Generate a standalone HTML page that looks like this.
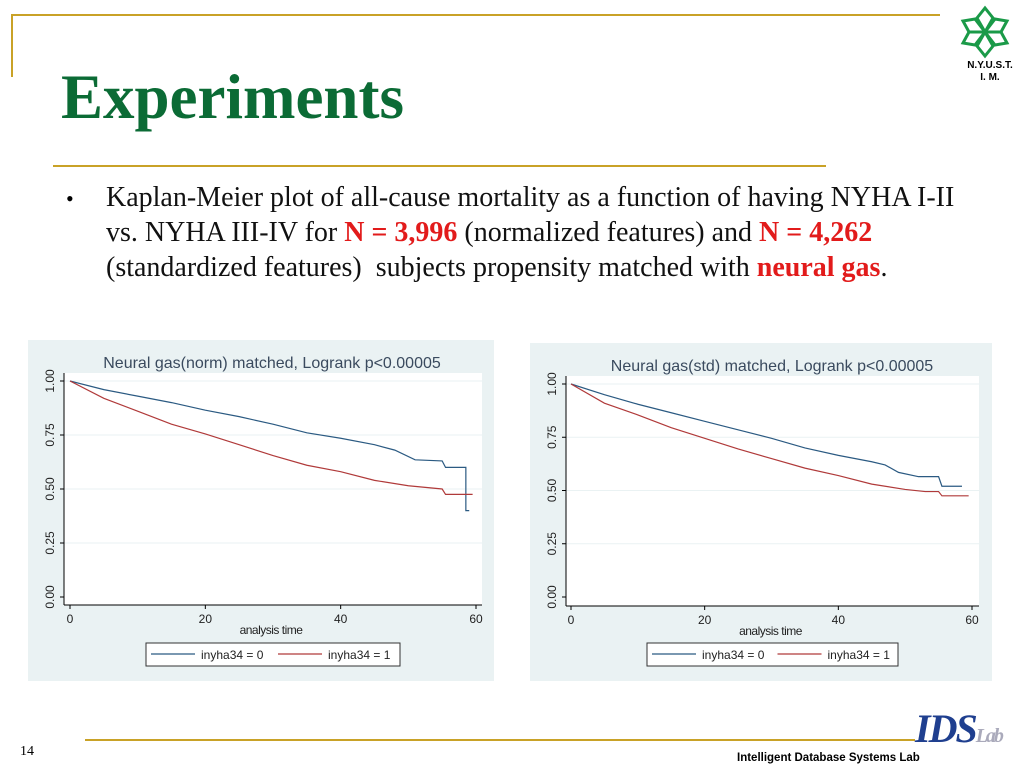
<!DOCTYPE html>
<html><head><meta charset="utf-8"><style>
body{margin:0;width:1024px;height:768px;background:#fff;position:relative;overflow:hidden;font-family:"Liberation Serif",serif}
.abs{position:absolute}
</style></head><body>
<div class="abs" style="left:12px;top:14px;width:928px;height:2px;background:#c9a227"></div>
<div class="abs" style="left:11px;top:14px;width:2px;height:63px;background:#c9a227"></div>
<div class="abs" style="left:61px;top:60px;font-size:63px;font-weight:bold;color:#0b6b35;line-height:74px">Experiments</div>
<div class="abs" style="left:53px;top:165px;width:773px;height:2px;background:#c9a227"></div>
<svg class="abs" style="left:955px;top:5px" width="60" height="55" viewBox="0 0 60 55">
<g fill="none" stroke="#1a9a48" stroke-width="3">
<path d="M30 27 L22 13 L30 3 L38 13 Z"/><path d="M30 27 L38 41 L30 51 L22 41 Z"/>
<path d="M30 27 L14 27 L8 16 L20 14 Z"/><path d="M30 27 L46 27 L52 38 L40 40 Z"/>
<path d="M30 27 L46 27 L52 16 L40 14 Z"/><path d="M30 27 L14 27 L8 38 L20 40 Z"/></g></svg>
<div class="abs" style="left:950px;top:60px;width:80px;text-align:center;font:bold 10px/12px 'Liberation Sans',sans-serif">N.Y.U.S.T.<br>I. M.</div>
<div class="abs" style="left:66px;top:186px;font-size:22px">•</div>
<div class="abs" style="left:106px;top:180px;width:910px;font-size:28px;line-height:35px;color:#111;white-space:nowrap">Kaplan-Meier plot of all-cause mortality as a function of having NYHA I-II<br>vs. NYHA III-IV for <b style="color:#e21b1b">N = 3,996</b> (normalized features) and <b style="color:#e21b1b">N = 4,262</b><br>(standardized features)&nbsp; subjects propensity matched with <b style="color:#e21b1b">neural gas</b>.</div>

<svg class="abs" id="c1" style="left:0;top:0" width="1024" height="768"></svg>

<div class="abs" style="left:85px;top:739px;width:830px;height:2px;background:#c9a227"></div>
<div class="abs" style="left:20px;top:744px;font-size:14px">14</div>
<div class="abs" style="left:915px;top:705px;font:italic bold 40px 'Liberation Serif',serif;color:#1f3f8f;letter-spacing:-2px">IDS<span style="font-size:20px;color:#aab">Lab</span></div>
<div class="abs" style="left:737px;top:752px;font:bold 11.5px 'Liberation Sans',sans-serif">Intelligent Database Systems Lab</div>

<script>
const NS='http://www.w3.org/2000/svg';
const xTicks=[0,20,40,60];
const yTicks=[0,0.25,0.5,0.75,1];
const yTickLabels=['0.00','0.25','0.50','0.75','1.00'];
const normTime0=[0,5,10,15,20,25,30,35,40,45,48,51,55,55.5,58.5,58.5,59];
const normSurv0=[1,0.96,0.93,0.90,0.865,0.835,0.80,0.76,0.735,0.705,0.68,0.635,0.63,0.60,0.60,0.40,0.40];
const normTime1=[0,5,10,15,20,25,30,35,40,45,50,55,55.5,59.5];
const normSurv1=[1,0.92,0.86,0.80,0.755,0.705,0.655,0.61,0.58,0.54,0.515,0.50,0.475,0.475];
const stdTime0=[0,5,10,15,20,25,30,35,40,45,47,49,52,55,55.5,58.5];
const stdSurv0=[1,0.95,0.905,0.865,0.825,0.785,0.745,0.70,0.665,0.635,0.62,0.585,0.565,0.565,0.52,0.52];
const stdTime1=[0,5,10,15,20,25,30,35,40,45,50,53,55,55.5,59.5];
const stdSurv1=[1,0.91,0.855,0.795,0.745,0.695,0.65,0.605,0.57,0.53,0.505,0.495,0.495,0.475,0.475];
const svg=document.getElementById('c1');
function mk(t,a,p){const e=document.createElementNS(NS,t);for(const k in a)e.setAttribute(k,a[k]);(p||svg).appendChild(e);return e;}
function chart(o){
  const g=mk('g',{});
  
  
  const sx=v=>o.x0+(o.x60-o.x0)*v/60, sy=v=>o.y0-(o.y0-o.y1)*v;
  const bg=mk('rect',{x:o.px,y:o.py,width:o.pw,height:o.ph,fill:'#eaf2f3'},g);
  
  const pl=mk('rect',{x:o.ax,y:o.y1-8,width:o.ar-o.ax,height:o.ab-o.y1+8,fill:'#fff'},g);
  
  yTicks.forEach((v,i)=>{
    if(v>0){const gl=mk('line',{x1:o.ax,x2:o.ar,y1:sy(v),y2:sy(v),stroke:'#eaf2f3','stroke-width':1},g);}
    mk('line',{x1:o.ax-4,x2:o.ax,y1:sy(v),y2:sy(v),stroke:'#000'},g);
    const t=mk('text',{x:0,y:0,transform:`translate(${o.ax-10},${sy(v)}) rotate(-90)`,'text-anchor':'middle','font-size':12,'font-family':'Liberation Sans,sans-serif',fill:'#222'},g);
    t.textContent=yTickLabels[i];
    
  });
  xTicks.forEach(v=>{
    mk('line',{x1:sx(v),x2:sx(v),y1:o.ab,y2:o.ab+4,stroke:'#000'},g);
    const t=mk('text',{x:sx(v),y:o.ab+18,'text-anchor':'middle','font-size':12,'font-family':'Liberation Sans,sans-serif',fill:'#222'},g);
    t.textContent=v;
    
  });
  mk('line',{x1:o.ax,x2:o.ax,y1:o.y1-8,y2:o.ab,stroke:'#000'},g);
  mk('line',{x1:o.ax,x2:o.ar,y1:o.ab,y2:o.ab,stroke:'#000'},g);
  const xt=mk('text',{x:(o.ax+o.ar)/2-2,y:o.ab+29,'text-anchor':'middle','font-size':12,'font-family':'Liberation Sans,sans-serif',fill:'#222','letter-spacing':'-0.5'},g);
  xt.textContent='analysis time';
  const tt=mk('text',{x:o.tx,y:o.ty,'text-anchor':'middle','font-size':16,'font-family':'Liberation Sans,sans-serif',fill:'#3a4a5e'},g);
  tt.textContent=o.title;
  [[o.t0,o.s0,'#2b5a82','series-nyha-0'],[o.t1,o.s1,'#b03a3a','series-nyha-1']].forEach(([T,S,c,n])=>{
    let d=`M${sx(T[0])},${sy(S[0])}`;
    for(let i=1;i<T.length;i++){d+=` L${sx(T[i])},${sy(S[i])}`;}
    const p=mk('path',{d:d,fill:'none',stroke:c,'stroke-width':1.2},g);
    
  });
  const lg=mk('rect',{x:o.lx,y:643,width:o.lw,height:23,fill:'#fff',stroke:'#333'},g);
  
  [['inyha34 = 0','#2b5a82',0],['inyha34 = 1','#b03a3a',1]].forEach(([l,c,i])=>{
    const bx=o.lx+5+i*o.lw/2;
    mk('line',{x1:bx,x2:bx+44,y1:654,y2:654,stroke:c,'stroke-width':1.2},g);
    const t=mk('text',{x:bx+50,y:659,'font-size':12,'font-family':'Liberation Sans,sans-serif',fill:'#222'},g);
    t.textContent=l;
  });
}
chart({name:'km-chart-norm',px:28,py:340,pw:466,ph:341,ax:64,ar:482,ab:605,x0:70,x60:476,y0:597,y1:381,tx:272,ty:368,title:'Neural gas(norm) matched, Logrank p<0.00005',t0:normTime0,s0:normSurv0,t1:normTime1,s1:normSurv1,lx:146,lw:254});
chart({name:'km-chart-std',px:530,py:343,pw:462,ph:338,ax:566,ar:979,ab:606,x0:571,x60:972,y0:597,y1:384,tx:772,ty:371,title:'Neural gas(std) matched, Logrank p<0.00005',t0:stdTime0,s0:stdSurv0,t1:stdTime1,s1:stdSurv1,lx:647,lw:251});
</script>
</body></html>
